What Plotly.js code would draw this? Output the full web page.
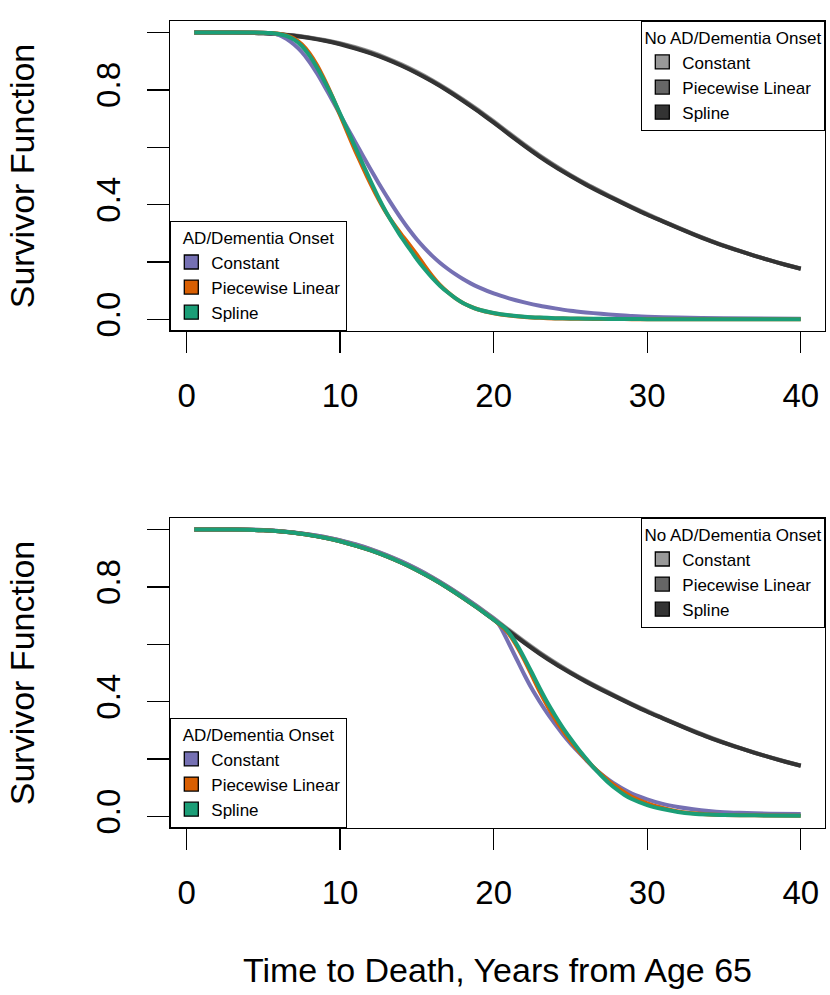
<!DOCTYPE html>
<html>
<head>
<meta charset="utf-8">
<script src="https://cdn.plot.ly/plotly-3.0.1.min.js"></script>
<style>
  html, body { margin: 0; padding: 0; background: #ffffff; }
  #chart { width: 830px; height: 995px; }
</style>
</head>
<body>
<div id="chart"></div>
<script>
// ---------- data ----------
const seriesNames = ["Constant", "Piecewise Linear", "Spline"];
const xTickVals = [0, 10, 20, 30, 40];
const xTickText = ["0", "10", "20", "30", "40"];
const yTickVals = [0, 0.2, 0.4, 0.6, 0.8, 1.0];
const yTickText = ["0.0", "", "0.4", "", "0.8", ""];

// No AD/Dementia onset (same curves in both panels)
const xNoAD = [0.5, 2, 4, 5, 6, 7, 8, 9, 10, 11, 12, 13, 14, 15, 16, 17, 18, 19, 20, 21,
               22, 23, 24, 25, 26, 27, 28, 29, 30, 31, 32, 33, 34, 35, 36, 37, 38, 39, 40];
const noADConstant  = [1, 1, 0.9995, 0.998, 0.995, 0.990, 0.983, 0.974, 0.963, 0.949, 0.932, 0.912, 0.889, 0.863, 0.834, 0.802, 0.767, 0.730, 0.691, 0.650,
                       0.610, 0.572, 0.537, 0.504, 0.474, 0.446, 0.419, 0.393, 0.368, 0.344, 0.321, 0.299, 0.278, 0.258, 0.240, 0.223, 0.207, 0.192, 0.178];
const noADPiecewise = [1, 1, 0.999, 0.997, 0.994, 0.989, 0.982, 0.972, 0.961, 0.946, 0.929, 0.909, 0.886, 0.860, 0.831, 0.799, 0.764, 0.727, 0.688, 0.647,
                       0.607, 0.569, 0.534, 0.502, 0.472, 0.444, 0.417, 0.391, 0.366, 0.343, 0.320, 0.298, 0.277, 0.257, 0.239, 0.222, 0.206, 0.191, 0.177];
const noADSpline    = [1, 1, 0.999, 0.997, 0.994, 0.989, 0.981, 0.971, 0.959, 0.944, 0.927, 0.907, 0.884, 0.858, 0.829, 0.797, 0.762, 0.725, 0.686, 0.645,
                       0.605, 0.567, 0.532, 0.500, 0.470, 0.442, 0.416, 0.390, 0.365, 0.342, 0.319, 0.297, 0.276, 0.257, 0.239, 0.222, 0.206, 0.191, 0.177];

// AD/Dementia onset, top panel
const xADTop = [0.5, 2, 4, 5, 5.5, 6, 6.5, 7, 7.5, 8, 8.5, 9, 9.5, 10, 10.5, 11, 11.5, 12, 12.5, 13,
                13.5, 14, 14.5, 15, 15.5, 16, 16.5, 17, 17.5, 18, 18.5, 19, 20, 21, 22, 23, 24, 25, 26, 27,
                28, 29, 30, 32, 35, 40];
const adTopConstant  = [1, 1, 1, 0.999, 0.997, 0.992, 0.978, 0.958, 0.932, 0.898, 0.857, 0.811, 0.763, 0.714, 0.665, 0.617, 0.569, 0.522, 0.476, 0.432,
                        0.390, 0.350, 0.313, 0.279, 0.249, 0.222, 0.198, 0.177, 0.158, 0.141, 0.126, 0.113, 0.091, 0.074, 0.060, 0.048, 0.039, 0.031, 0.025, 0.020,
                        0.016, 0.012, 0.010, 0.007, 0.005, 0.003];
const adTopPiecewise = [1, 1, 1, 0.999, 0.998, 0.996, 0.990, 0.979, 0.959, 0.928, 0.886, 0.834, 0.776, 0.712, 0.648, 0.586, 0.527, 0.471, 0.419, 0.372,
                        0.332, 0.296, 0.262, 0.226, 0.188, 0.152, 0.121, 0.096, 0.075, 0.058, 0.045, 0.035, 0.022, 0.014, 0.009, 0.006, 0.004, 0.003, 0.0025, 0.002,
                        0.002, 0.0015, 0.0015, 0.001, 0.001, 0.001];
const adTopSpline    = [1, 1, 1, 0.999, 0.998, 0.995, 0.988, 0.975, 0.953, 0.920, 0.877, 0.828, 0.775, 0.717, 0.658, 0.598, 0.539, 0.481, 0.425, 0.374,
                        0.329, 0.286, 0.248, 0.210, 0.176, 0.145, 0.118, 0.095, 0.075, 0.058, 0.045, 0.035, 0.023, 0.015, 0.010, 0.007, 0.005, 0.004, 0.003, 0.0025,
                        0.002, 0.002, 0.0015, 0.0012, 0.001, 0.001];

// AD/Dementia onset, bottom panel
const xADBotConstant = [0.5, 2, 4, 5, 6, 7, 8, 9, 10, 11, 12, 13, 14, 15, 16, 17, 18, 19, 20, 20.2,
                        20.5, 21, 21.5, 22, 22.5, 23, 23.5, 24, 24.5, 25, 25.5, 26, 26.5, 27, 27.5, 28, 28.5, 29, 30, 31,
                        32, 33, 34, 35, 36, 38, 40];
const adBotConstant  = [1, 1, 0.9995, 0.998, 0.995, 0.990, 0.983, 0.974, 0.962, 0.948, 0.931, 0.911, 0.888, 0.862, 0.833, 0.801, 0.766, 0.729, 0.690, 0.681,
                        0.655, 0.602, 0.548, 0.494, 0.444, 0.400, 0.359, 0.322, 0.287, 0.255, 0.226, 0.198, 0.171, 0.148, 0.128, 0.110, 0.094, 0.080, 0.060, 0.044,
                        0.033, 0.025, 0.019, 0.015, 0.013, 0.010, 0.009];
const xADBot = [0.5, 2, 4, 5, 6, 7, 8, 9, 10, 11, 12, 13, 14, 15, 16, 17, 18, 19, 20, 20.4,
                20.7, 21, 21.5, 22, 22.5, 23, 23.5, 24, 24.5, 25, 25.5, 26, 26.5, 27, 27.5, 28, 28.5, 29, 30, 31,
                32, 33, 34, 35, 37, 40];
const adBotPiecewise = [1, 1, 0.999, 0.997, 0.994, 0.989, 0.981, 0.971, 0.959, 0.944, 0.927, 0.907, 0.884, 0.858, 0.829, 0.797, 0.762, 0.725, 0.686, 0.668,
                        0.654, 0.636, 0.594, 0.545, 0.490, 0.435, 0.385, 0.340, 0.300, 0.263, 0.230, 0.200, 0.172, 0.147, 0.124, 0.103, 0.085, 0.069, 0.046, 0.030,
                        0.018, 0.011, 0.007, 0.005, 0.004, 0.003];
const adBotSpline    = [1, 1, 0.999, 0.997, 0.994, 0.989, 0.981, 0.971, 0.959, 0.944, 0.927, 0.907, 0.884, 0.858, 0.829, 0.797, 0.762, 0.725, 0.686, 0.670,
                        0.658, 0.640, 0.600, 0.552, 0.500, 0.447, 0.397, 0.352, 0.310, 0.272, 0.236, 0.203, 0.171, 0.143, 0.117, 0.095, 0.076, 0.061, 0.040, 0.026,
                        0.016, 0.010, 0.007, 0.005, 0.004, 0.003];

// ---------- styling ----------
const adColors   = ["#7570B3", "#D95F02", "#1B9E77"];
const noADColors = ["#999999", "#666666", "#333333"];
const FONT = "Liberation Sans, Arial, Helvetica, sans-serif";
const LW = 4;

function curve(x, y, color, xa, ya) {
  return { type: "scatter", mode: "lines", x: x, y: y, xaxis: xa, yaxis: ya,
           line: { color: color, width: LW, shape: "spline", smoothing: 0.6 },
           showlegend: false, hoverinfo: "skip" };
}
function swatch(name, color, legendId) {
  return { type: "scatter", mode: "markers", x: [null], y: [null], name: name,
           legend: legendId, showlegend: true, hoverinfo: "skip",
           marker: { symbol: "square", size: 14, color: color, line: { color: "#000000", width: 1.3 } } };
}

const traces = [];
const noAD = [noADConstant, noADPiecewise, noADSpline];
const adTop = [adTopConstant, adTopPiecewise, adTopSpline];
const adBot = [adBotConstant, adBotPiecewise, adBotSpline];
const adBotX = [xADBotConstant, xADBot, xADBot];

// top panel
for (let i = 0; i < 3; i++) traces.push(curve(xNoAD, noAD[i], noADColors[i], "x", "y"));
for (let i = 0; i < 3; i++) traces.push(curve(xADTop, adTop[i], adColors[i], "x", "y"));
// bottom panel
for (let i = 0; i < 3; i++) traces.push(curve(xNoAD, noAD[i], noADColors[i], "x2", "y2"));
for (let i = 0; i < 3; i++) traces.push(curve(adBotX[i], adBot[i], adColors[i], "x2", "y2"));
// legend swatches
for (let i = 0; i < 3; i++) traces.push(swatch(seriesNames[i], adColors[i], "legend"));
for (let i = 0; i < 3; i++) traces.push(swatch(seriesNames[i], noADColors[i], "legend2"));
for (let i = 0; i < 3; i++) traces.push(swatch(seriesNames[i], adColors[i], "legend3"));
for (let i = 0; i < 3; i++) traces.push(swatch(seriesNames[i], noADColors[i], "legend4"));

const topDomain = [0.6158, 1];
const botDomain = [0, 0.3841];

function xAxis(anchor, withTitle) {
  const ax = {
    anchor: anchor, domain: [0, 1], range: [-1.08, 41.58],
    tickmode: "array", tickvals: xTickVals, ticktext: xTickText,
    ticks: "outside", ticklen: 21, tickwidth: 1.3, tickcolor: "#000000",
    ticklabelstandoff: 14,
    showline: true, mirror: true, linecolor: "#000000", linewidth: 1.3,
    showgrid: false, zeroline: false, automargin: false,
    tickfont: { family: FONT, size: 33, color: "#000000" }
  };
  if (withTitle) ax.title = { text: "Time to Death, Years from Age 65", standoff: 48,
                              font: { family: FONT, size: 34, color: "#000000" } };
  return ax;
}
function yAxis(anchor, domain) {
  return {
    anchor: anchor, domain: domain, range: [-0.04, 1.04],
    tickmode: "array", tickvals: yTickVals, ticktext: yTickText, tickangle: -90,
    ticks: "outside", ticklen: 22, tickwidth: 1.3, tickcolor: "#000000",
    ticklabelstandoff: 14,
    showline: true, mirror: true, linecolor: "#000000", linewidth: 1.3,
    showgrid: false, zeroline: false, automargin: false,
    tickfont: { family: FONT, size: 33, color: "#000000" },
    title: { text: "Survivor Function", standoff: 44, font: { family: FONT, size: 34, color: "#000000" } }
  };
}
function legendBox(x, xanchor, y, yanchor, title) {
  return {
    x: x, xanchor: xanchor, y: y, yanchor: yanchor, xref: "paper", yref: "paper",
    bgcolor: "#ffffff", bordercolor: "#000000", borderwidth: 1.3,
    font: { family: FONT, size: 17, color: "#000000" },
    title: { text: title, side: "top center", font: { family: FONT, size: 17, color: "#000000" } },
    traceorder: "normal", itemclick: false, itemdoubleclick: false
  };
}

const layout = {
  width: 830, height: 995,
  margin: { l: 170, r: 5, t: 21, b: 167, pad: 0 },
  paper_bgcolor: "#ffffff", plot_bgcolor: "#ffffff",
  font: { family: FONT, color: "#000000" },
  showlegend: true,
  xaxis: xAxis("y", false),
  yaxis: yAxis("x", topDomain),
  xaxis2: xAxis("y2", true),
  yaxis2: yAxis("x2", botDomain),
  legend:  legendBox(0, "left", topDomain[0], "bottom", "AD/Dementia Onset"),
  legend2: legendBox(1, "right", 1, "top", "No AD/Dementia Onset"),
  legend3: legendBox(0, "left", 0, "bottom", "AD/Dementia Onset"),
  legend4: legendBox(1, "right", botDomain[1], "top", "No AD/Dementia Onset")
};

Plotly.newPlot("chart", traces, layout, { displayModeBar: false, staticPlot: true });
</script>
</body>
</html>
